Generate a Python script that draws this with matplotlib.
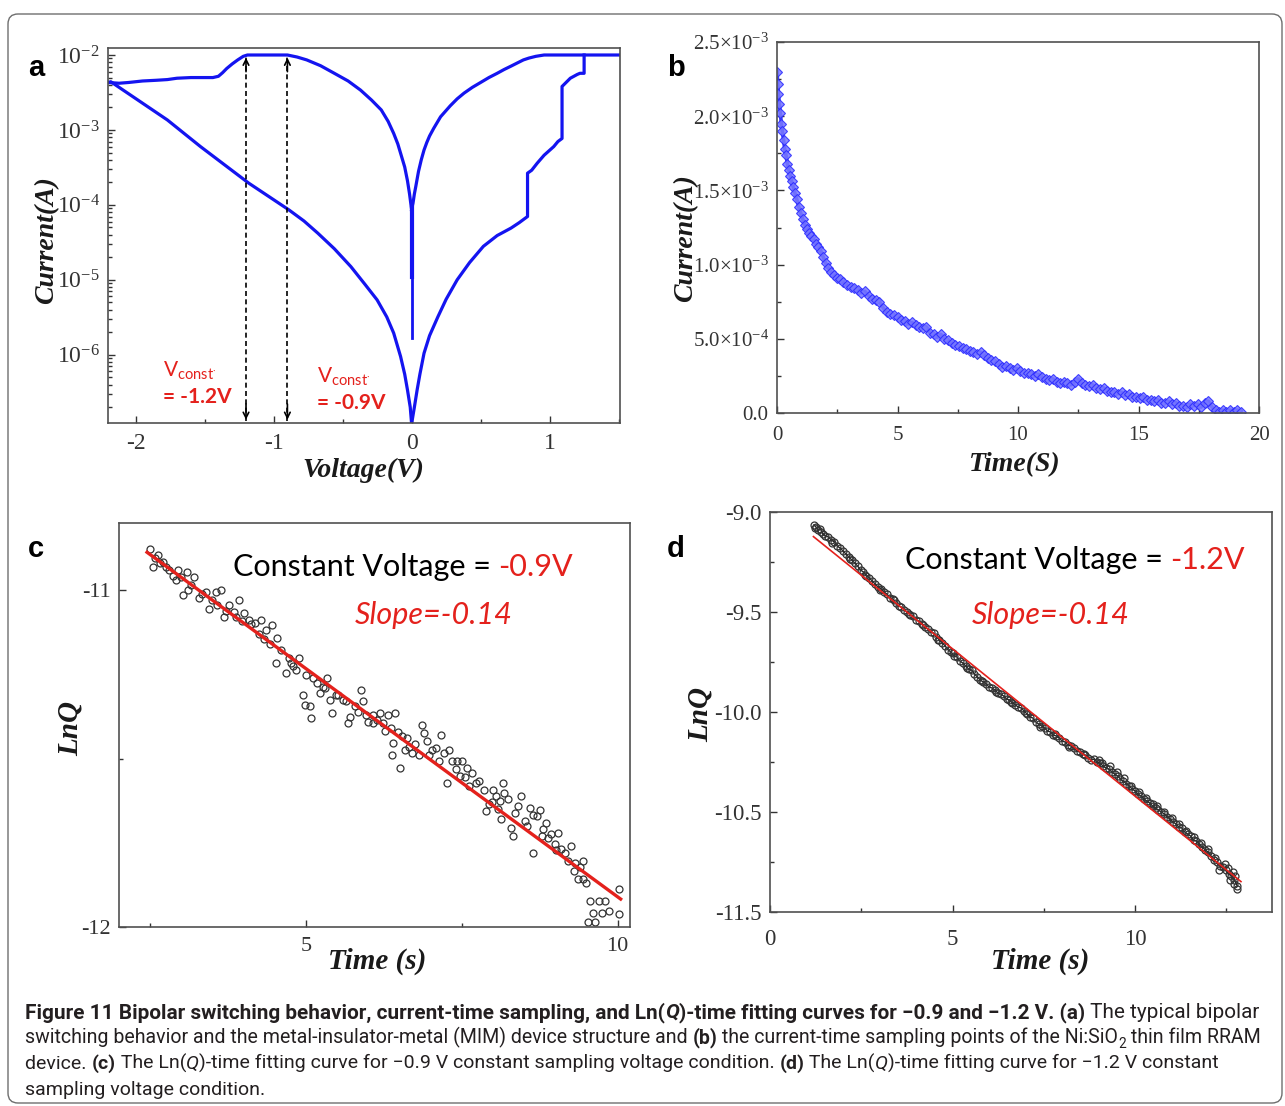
import numpy as np
import matplotlib
matplotlib.use('Agg')
import matplotlib.pyplot as plt
from matplotlib import font_manager
from matplotlib.patches import FancyBboxPatch
from matplotlib.transforms import IdentityTransform
from matplotlib.ticker import LogLocator, NullFormatter, MultipleLocator
from matplotlib.font_manager import FontProperties

plt.rcParams['font.family'] = 'Liberation Serif'
plt.rcParams['axes.unicode_minus'] = False
plt.rcParams['mathtext.fontset'] = 'custom'
plt.rcParams['mathtext.rm'] = 'Liberation Serif'
plt.rcParams['mathtext.it'] = 'Liberation Serif:italic'
plt.rcParams['mathtext.bf'] = 'Liberation Serif:bold'

SERIF = 'Liberation Serif'
SANS = 'Lato'
BLUE = '#1414f0'
RED = '#e4211c'

# ---------------- data: panel a (I-V sweep) ----------------
a_upper_left_v = [-2.20, -2.12, -2.05, -1.95, -1.85, -1.77, -1.70, -1.60, -1.50, -1.44, -1.40, -1.37, -1.34,
                  -1.30, -1.26, -1.22, -1.19, -0.90, -0.83, -0.76, -0.66, -0.56, -0.46, -0.37, -0.29,
                  -0.22, -0.17, -0.13, -0.10, -0.08, -0.05, -0.03, -0.015, 0.0]
a_upper_left_i = [4.3e-3, 4.2e-3, 4.3e-3, 4.5e-3, 4.6e-3, 4.7e-3, 4.9e-3, 5.0e-3, 5.0e-3, 5.0e-3, 5.2e-3, 5.8e-3, 6.6e-3,
                  7.6e-3, 8.6e-3, 9.6e-3, 1.0e-2, 1.0e-2, 9.4e-3, 8.6e-3, 7.2e-3, 5.7e-3, 4.5e-3, 3.4e-3, 2.5e-3,
                  1.85e-3, 1.3e-3, 9.0e-4, 6.5e-4, 4.9e-4, 3.2e-4, 2.1e-4, 1.4e-4, 8.6e-5]
a_upper_right_v = [0.0, 0.01, 0.02, 0.03, 0.05, 0.07, 0.09, 0.11, 0.13, 0.16, 0.21, 0.28, 0.33, 0.38, 0.44,
                   0.50, 0.56, 0.62, 0.67, 0.72, 0.77, 0.81, 0.85, 0.90, 0.96, 1.51]
a_upper_right_i = [8.6e-5, 1.05e-4, 1.4e-4, 1.75e-4, 2.8e-4, 4.0e-4, 5.4e-4, 6.8e-4, 8.3e-4, 1.05e-3, 1.5e-3,
                   2.1e-3, 2.6e-3, 3.1e-3, 3.7e-3, 4.3e-3, 5.0e-3, 5.7e-3, 6.4e-3, 7.1e-3, 7.9e-3, 8.6e-3,
                   9.1e-3, 9.6e-3, 1.0e-2, 1.0e-2]
a_spike_v = [0.0, 0.0]
a_spike_i = [9.0e-5, 1.7e-6]
a_lower_left_v = [-2.20, -2.18, -1.77, -1.53, -1.18, -0.89, -0.78, -0.68, -0.56, -0.44, -0.34, -0.25, -0.18,
                  -0.13, -0.08, -0.05, -0.03, -0.01, 0.0]
a_lower_left_i = [4.3e-3, 4.4e-3, 1.36e-3, 6.0e-4, 1.95e-4, 8.6e-5, 6.1e-5, 4.2e-5, 2.6e-5, 1.5e-5, 8.8e-6,
                  5.4e-6, 3.2e-6, 1.95e-6, 9.5e-7, 5.5e-7, 3.4e-7, 2.0e-7, 1.2e-7]
a_lower_right_v = [0.0, 0.02, 0.04, 0.06, 0.09, 0.13, 0.19, 0.25, 0.33, 0.42, 0.52, 0.62, 0.72, 0.78, 0.84,
                   0.84, 0.87, 0.91, 0.96, 1.03, 1.06, 1.09, 1.09, 1.15, 1.20, 1.22, 1.25, 1.25]
a_lower_right_i = [1.2e-7, 2.0e-7, 3.4e-7, 5.5e-7, 1.05e-6, 1.8e-6, 3.2e-6, 5.5e-6, 1.0e-5, 1.7e-5, 2.8e-5,
                   3.9e-5, 4.9e-5, 5.8e-5, 7.0e-5, 2.65e-4, 2.9e-4, 3.6e-4, 4.6e-4, 6.0e-4, 7.0e-4, 7.7e-4,
                   3.8e-3, 4.9e-3, 5.5e-3, 5.7e-3, 5.7e-3, 1.0e-2]
a_vconst = [-1.2, -0.9]

# ---------------- data: panel b (current vs time) ----------------
b_time = [0.00, 0.03, 0.06, 0.10, 0.14, 0.18, 0.22, 0.27, 0.32, 0.37, 0.43, 0.49, 0.55, 0.61, 0.68, 0.75,
          0.82, 0.90, 0.98, 1.06, 1.15, 1.24, 1.33, 1.42, 1.52, 1.62, 1.72, 1.82, 1.92, 2.02, 2.12, 2.24,
          2.36, 2.48, 2.60, 2.75, 2.90, 3.05, 3.20, 3.35, 3.50, 3.65, 3.80, 3.95, 4.10, 4.25, 4.40, 4.55,
          4.70, 4.85, 5.00, 5.15, 5.30, 5.45, 5.60, 5.75, 5.90, 6.05, 6.20, 6.35, 6.50, 6.65, 6.80, 6.95,
          7.10, 7.25, 7.40, 7.55, 7.70, 7.85, 8.00, 8.15, 8.30, 8.45, 8.60, 8.75, 8.90, 9.05, 9.20, 9.35,
          9.50, 9.65, 9.80, 9.95, 10.10, 10.25, 10.40, 10.55, 10.70, 10.85, 11.00, 11.15, 11.30, 11.45,
          11.60, 11.75, 11.90, 12.05, 12.20, 12.35, 12.50, 12.65, 12.80, 12.95, 13.10, 13.25, 13.40, 13.55,
          13.70, 13.85, 14.00, 14.15, 14.30, 14.45, 14.60, 14.75, 14.90, 15.05, 15.20, 15.35, 15.50, 15.65,
          15.80, 15.95, 16.10, 16.25, 16.40, 16.55, 16.70, 16.85, 17.00, 17.15, 17.30, 17.45, 17.60, 17.75,
          17.90, 18.05, 18.20, 18.35, 18.50, 18.65, 18.80, 18.95, 19.10, 19.25]
b_current_mA = [2.30, 2.22, 2.15, 2.08, 2.02, 1.95, 1.90, 1.84, 1.78, 1.74, 1.68, 1.64, 1.60, 1.56, 1.52, 1.48,
                1.44, 1.39, 1.35, 1.31, 1.27, 1.24, 1.21, 1.19, 1.17, 1.14, 1.12, 1.09, 1.05, 1.01, 0.98, 0.95,
                0.93, 0.91, 0.90, 0.88, 0.86, 0.85, 0.84, 0.83, 0.81, 0.82, 0.79, 0.77, 0.76, 0.75, 0.71, 0.68,
                0.67, 0.66, 0.65, 0.63, 0.62, 0.60, 0.61, 0.59, 0.58, 0.57, 0.58, 0.54, 0.53, 0.51, 0.53, 0.50,
                0.49, 0.47, 0.46, 0.45, 0.44, 0.43, 0.42, 0.41, 0.40, 0.41, 0.39, 0.37, 0.36, 0.35, 0.33, 0.31,
                0.32, 0.30, 0.29, 0.30, 0.28, 0.27, 0.27, 0.26, 0.25, 0.26, 0.24, 0.23, 0.22, 0.23, 0.21, 0.20,
                0.21, 0.20, 0.19, 0.21, 0.23, 0.20, 0.19, 0.18, 0.19, 0.17, 0.16, 0.17, 0.15, 0.14, 0.14, 0.13,
                0.14, 0.12, 0.13, 0.11, 0.11, 0.10, 0.11, 0.09, 0.09, 0.08, 0.09, 0.07, 0.07, 0.08, 0.06, 0.07,
                0.05, 0.05, 0.04, 0.06, 0.05, 0.06, 0.04, 0.07, 0.08, 0.04, 0.02, 0.01, 0.02, 0.01, 0.02, 0.01,
                0.02, 0.01]

# ---------------- data: panel c (LnQ vs time, -0.9 V) ----------------
c_points = [(2.50, -10.877), (2.55, -10.931), (2.58, -10.905), (2.63, -10.896), (2.66, -10.920), (2.71, -10.916),
            (2.76, -10.931), (2.80, -10.940), (2.87, -10.956), (2.92, -10.970), (2.95, -10.941), (3.00, -10.960),
            (3.03, -11.015), (3.09, -10.946), (3.11, -11.000), (3.15, -10.985), (3.20, -10.961), (3.28, -11.024),
            (3.33, -11.010), (3.39, -11.005), (3.44, -11.054), (3.50, -11.030), (3.55, -11.005), (3.58, -11.045),
            (3.63, -11.000), (3.68, -11.079), (3.72, -11.060), (3.76, -11.044), (3.84, -11.064), (3.88, -11.080),
            (3.92, -11.030), (3.97, -11.090), (4.00, -11.068), (4.09, -11.089), (4.12, -11.100), (4.19, -11.098),
            (4.24, -11.130), (4.28, -11.089), (4.32, -11.145), (4.36, -11.118), (4.42, -11.160), (4.46, -11.104),
            (4.52, -11.217), (4.54, -11.143), (4.60, -11.178), (4.68, -11.247), (4.72, -11.200), (4.76, -11.217),
            (4.80, -11.225), (4.84, -11.237), (4.89, -11.202), (4.95, -11.311), (4.98, -11.340), (5.00, -11.250),
            (5.06, -11.345), (5.08, -11.379), (5.12, -11.260), (5.17, -11.276), (5.22, -11.306), (5.27, -11.286),
            (5.30, -11.290), (5.33, -11.261), (5.38, -11.325), (5.41, -11.363), (5.49, -11.311), (5.52, -11.310),
            (5.60, -11.325), (5.64, -11.330), (5.68, -11.394), (5.70, -11.375), (5.78, -11.345), (5.84, -11.360),
            (5.89, -11.296), (5.92, -11.330), (5.96, -11.370), (6.00, -11.390), (6.08, -11.394), (6.08, -11.370),
            (6.14, -11.385), (6.19, -11.365), (6.24, -11.395), (6.27, -11.419), (6.32, -11.370), (6.36, -11.410),
            (6.38, -11.488), (6.40, -11.454), (6.43, -11.365), (6.48, -11.420), (6.51, -11.527), (6.54, -11.434),
            (6.59, -11.473), (6.62, -11.440), (6.65, -11.464), (6.70, -11.483), (6.75, -11.455), (6.81, -11.488),
            (6.86, -11.399), (6.89, -11.424), (6.94, -11.449), (6.98, -11.490), (7.03, -11.473), (7.08, -11.468),
            (7.13, -11.508), (7.16, -11.429), (7.21, -11.483), (7.27, -11.572), (7.29, -11.473), (7.35, -11.508),
            (7.40, -11.530), (7.43, -11.508), (7.48, -11.552), (7.51, -11.508), (7.56, -11.555), (7.59, -11.527),
            (7.62, -11.580), (7.67, -11.542), (7.73, -11.572), (7.78, -11.567), (7.86, -11.592), (7.89, -11.656),
            (7.94, -11.636), (7.98, -11.630), (8.00, -11.592), (8.05, -11.611), (8.08, -11.650), (8.11, -11.626),
            (8.13, -11.680), (8.16, -11.572), (8.18, -11.601), (8.24, -11.621), (8.29, -11.705), (8.32, -11.730),
            (8.35, -11.661), (8.40, -11.641), (8.45, -11.611), (8.51, -11.686), (8.55, -11.700), (8.59, -11.646),
            (8.64, -11.666), (8.64, -11.779), (8.70, -11.670), (8.75, -11.651), (8.78, -11.730), (8.81, -11.710),
            (8.86, -11.690), (8.89, -11.735), (8.94, -11.725), (8.99, -11.754), (9.02, -11.770), (9.05, -11.720),
            (9.10, -11.769), (9.16, -11.779), (9.21, -11.804), (9.26, -11.760), (9.30, -11.835), (9.32, -11.809),
            (9.37, -11.858), (9.40, -11.823), (9.45, -11.804), (9.45, -11.858), (9.50, -11.870), (9.53, -11.986),
            (9.56, -11.922), (9.61, -11.957), (9.64, -11.986), (9.70, -11.922), (9.75, -11.957), (9.80, -11.922),
            (9.86, -11.952), (10.02, -11.888), (10.02, -11.962)]
c_time = [p[0] for p in c_points]
c_lnq = [p[1] for p in c_points]
c_fit_time = [2.45, 10.05]
c_fit_lnq = [-10.887, -11.917]

# ---------------- data: panel d (LnQ vs time, -1.2 V) ----------------
d_points = [(1.20, -9.065), (1.26, -9.075), (1.32, -9.09), (1.38, -9.085), (1.45, -9.11), (1.52, -9.12),
            (1.60, -9.125), (1.68, -9.14), (1.76, -9.15), (1.84, -9.17), (1.92, -9.18), (2.00, -9.195),
            (2.08, -9.21), (2.16, -9.225), (2.24, -9.24), (2.32, -9.255), (2.40, -9.27), (2.48, -9.29),
            (2.56, -9.30), (2.64, -9.32), (2.72, -9.33), (2.80, -9.345), (2.88, -9.36), (2.96, -9.375),
            (3.04, -9.385), (3.12, -9.40), (3.20, -9.41), (3.28, -9.43), (3.36, -9.435), (3.44, -9.455),
            (3.52, -9.47), (3.60, -9.475), (3.68, -9.49), (3.76, -9.50), (3.84, -9.515), (3.92, -9.52),
            (4.00, -9.54), (4.08, -9.545), (4.16, -9.56), (4.24, -9.575), (4.32, -9.585), (4.40, -9.60),
            (4.48, -9.605), (4.56, -9.625), (4.64, -9.64), (4.72, -9.655), (4.80, -9.67), (4.88, -9.69),
            (4.96, -9.70), (5.04, -9.72), (5.12, -9.725), (5.20, -9.745), (5.28, -9.755), (5.36, -9.77),
            (5.44, -9.785), (5.52, -9.79), (5.60, -9.81), (5.68, -9.825), (5.76, -9.84), (5.84, -9.85),
            (5.92, -9.86), (6.00, -9.875), (6.08, -9.88), (6.16, -9.89), (6.24, -9.905), (6.32, -9.91),
            (6.40, -9.92), (6.48, -9.935), (6.56, -9.94), (6.64, -9.955), (6.72, -9.965), (6.80, -9.975),
            (6.88, -9.98), (6.96, -9.995), (7.04, -10.01), (7.12, -10.025), (7.20, -10.03), (7.28, -10.05),
            (7.36, -10.06), (7.44, -10.07), (7.52, -10.08), (7.60, -10.095), (7.68, -10.10), (7.76, -10.115),
            (7.84, -10.12), (7.92, -10.13), (8.00, -10.145), (8.08, -10.15), (8.16, -10.165), (8.24, -10.17),
            (8.32, -10.18), (8.40, -10.195), (8.48, -10.20), (8.56, -10.21), (8.64, -10.215), (8.72, -10.23),
            (8.80, -10.24), (8.88, -10.235), (8.96, -10.25), (9.04, -10.255), (9.12, -10.27), (9.20, -10.28),
            (9.28, -10.285), (9.36, -10.30), (9.44, -10.31), (9.52, -10.32), (9.60, -10.335), (9.68, -10.345),
            (9.76, -10.36), (9.84, -10.37), (9.92, -10.385), (10.00, -10.395), (10.08, -10.41), (10.16, -10.42),
            (10.24, -10.435), (10.32, -10.445), (10.40, -10.455), (10.48, -10.47), (10.56, -10.48), (10.64, -10.49),
            (10.72, -10.50), (10.80, -10.51), (10.88, -10.525), (10.96, -10.535), (11.04, -10.55), (11.12, -10.56),
            (11.20, -10.575), (11.28, -10.58), (11.36, -10.60), (11.44, -10.61), (11.52, -10.62), (11.60, -10.64),
            (11.68, -10.645), (11.76, -10.66), (11.84, -10.675), (11.92, -10.69), (12.00, -10.70), (12.08, -10.72),
            (12.16, -10.74), (12.24, -10.75), (12.32, -10.77), (12.40, -10.775), (12.48, -10.79), (12.56, -10.81),
            (12.64, -10.82), (12.72, -10.84), (12.80, -10.87)]
d_extra = [(1.24, -9.08), (1.40, -9.10), (1.70, -9.155), (2.20, -9.235), (2.60, -9.315), (3.00, -9.39),
           (3.40, -9.44), (3.80, -9.51), (4.20, -9.565), (4.60, -9.64), (5.00, -9.705), (5.40, -9.78),
           (5.80, -9.845), (6.20, -9.90), (6.60, -9.95), (7.00, -10.005), (7.40, -10.075), (7.80, -10.11),
           (8.20, -10.175), (8.60, -10.21), (9.00, -10.24), (9.10, -10.255), (9.30, -10.27), (9.50, -10.30),
           (9.70, -10.33), (9.90, -10.37), (10.10, -10.40), (10.30, -10.43), (10.50, -10.46), (10.60, -10.47),
           (10.80, -10.50), (11.00, -10.53), (11.20, -10.56), (11.40, -10.595), (11.60, -10.625), (11.80, -10.655),
           (12.00, -10.685), (12.20, -10.73), (12.30, -10.79), (12.45, -10.76), (12.55, -10.78), (12.60, -10.84),
           (12.68, -10.80), (12.75, -10.82), (12.78, -10.885), (12.70, -10.86)]
d_time = [p[0] for p in d_points]
d_lnq = [p[1] for p in d_points]
d_extra_time = [p[0] for p in d_extra]
d_extra_lnq = [p[1] for p in d_extra]
d_fit_time = [1.19, 12.9]
d_fit_lnq = [-9.123, -10.848]

# ---------------- figure ----------------
W, H = 1285, 1106
fig = plt.figure(figsize=(W / 100, H / 100), dpi=100)
renderer = fig.canvas.get_renderer()


def px(x, y):
    return x / W, 1 - y / H


def add_axes(left, top, right, bottom):
    return fig.add_axes([left / W, 1 - bottom / H, (right - left) / W, (bottom - top) / H])


def style(ax, size, xpad):
    for s in ax.spines.values():
        s.set_color('#505050')
        s.set_linewidth(1.2)
    ax.tick_params(which='both', direction='in', top=False, right=False, colors='#333333',
                   labelsize=size, width=1.0, pad=6)
    ax.tick_params(axis='x', which='both', pad=xpad)
    ax.tick_params(which='major', length=5)
    ax.tick_params(which='minor', length=3)


LABEL = dict(family=SERIF, weight='bold', style='italic', fontsize=20, color='#1a1a1a')

# panel a
ax = add_axes(108, 48, 620, 423)
for v_, i_ in [(a_upper_left_v, a_upper_left_i), (a_upper_right_v, a_upper_right_i),
               (a_lower_left_v, a_lower_left_i), (a_lower_right_v, a_lower_right_i)]:
    ax.plot(v_, i_, color=BLUE, lw=2.3, solid_joinstyle='round')
ax.plot(a_spike_v, a_spike_i, color=BLUE, lw=2.0)
ax.plot(a_spike_v, [9.0e-5, 1.1e-5], color=BLUE, lw=3.0)
for v in a_vconst:
    ax.plot([v, v], [1.3e-7, 9.5e-3], color='k', lw=1.2, ls=(0, (3, 2)))
    ax.annotate('', xy=(v, 1.0e-2), xytext=(v, 5.5e-3),
                arrowprops=dict(arrowstyle='->', color='k', lw=1.2))
    ax.annotate('', xy=(v, 1.25e-7), xytext=(v, 2.4e-7),
                arrowprops=dict(arrowstyle='->', color='k', lw=1.2))
ax.set_yscale('log')
ax.set_xlim(-2.2, 1.51)
ax.set_ylim(1.23e-7, 1.24e-2)
ax.set_xticks([-2, -1, 0, 1], ['-2', '-1', '0', '1'])
ax.xaxis.set_minor_locator(MultipleLocator(0.5))
ax.set_yticks([1e-6, 1e-5, 1e-4, 1e-3, 1e-2],
              [r'10$^{-6}$', r'10$^{-5}$', r'10$^{-4}$', r'10$^{-3}$', r'10$^{-2}$'])
ax.yaxis.set_minor_locator(LogLocator(base=10, subs=np.arange(2, 10)))
ax.yaxis.set_minor_formatter(NullFormatter())
style(ax, 17, 7.5)
fig.text(*px(363, 470), 'Voltage(V)', ha='center', va='center', **LABEL)
fig.text(*px(47, 240), 'Current(A)', ha='center', va='center', rotation=90, **LABEL)
for x0, y0, val in [(163, 370, '= -1.2V'), (317, 376, '= -0.9V')]:
    fig.text(*px(x0, y0), r'V$_{\mathregular{const}^{\bullet}}$', ha='left', va='center',
             family=SANS, fontsize=15, color=RED)
    fig.text(*px(x0, y0 + 27), val, ha='left', va='center', family=SANS, fontsize=15,
             weight='bold', color=RED)

# panel b
ax = add_axes(777, 42, 1259, 413)
current = np.array(b_current_mA) * 1e-3
ax.plot(b_time, current, color='#1c1cf5', lw=2.6, marker='D', ms=5, mfc='#7878ff',
        mec='#2a2aff', mew=0.8, alpha=0.85)
ax.set_xlim(0, 20)
ax.set_ylim(0, 2.5e-3)
ax.set_xticks([0, 5, 10, 15, 20])
ax.xaxis.set_minor_locator(MultipleLocator(2.5))
ax.set_yticks([0, 5e-4, 1e-3, 1.5e-3, 2e-3, 2.5e-3],
              ['0.0', r'5.0×10$^{-4}$', r'1.0×10$^{-3}$', r'1.5×10$^{-3}$', r'2.0×10$^{-3}$',
               r'2.5×10$^{-3}$'])
ax.yaxis.set_minor_locator(MultipleLocator(2.5e-4))
style(ax, 15, 9.5)
fig.text(*px(1015, 465), 'Time(S)', ha='center', va='center', **LABEL)
fig.text(*px(686, 238), 'Current(A)', ha='center', va='center', rotation=90, **LABEL)

# panel c
ax = add_axes(119, 523, 630, 927)
ax.plot(c_time, c_lnq, ls='none', marker='o', ms=5, mfc='none', mec='#333333', mew=0.9)
ax.plot(c_fit_time, c_fit_lnq, color=RED, lw=2.4)
ax.set_xlim(2.0, 10.2)
ax.set_ylim(-12, -10.8)
ax.set_xticks([5, 10])
ax.set_xticks([2.5, 7.5], minor=True)
ax.set_yticks([-12, -11], ['-12', '-11'])
ax.set_yticks([-11.5], minor=True)
style(ax, 16, 7.5)
fig.text(*px(377, 961), 'Time (s)', ha='center', va='center', **dict(LABEL, fontsize=21))
fig.text(*px(70, 728), 'LnQ', ha='center', va='center', rotation=90, **dict(LABEL, fontsize=21))

# panel d
ax = add_axes(770, 512, 1272, 912)
ax.plot(d_time, d_lnq, color='#222222', lw=1.0, marker='o', ms=5, mfc='none', mec='#333333', mew=0.9)
ax.plot(d_extra_time, d_extra_lnq, ls='none', marker='o', ms=5, mfc='none', mec='#333333', mew=0.9)
ax.plot(d_fit_time, d_fit_lnq, color=RED, lw=1.2)
ax.set_xlim(0, 13.75)
ax.set_ylim(-11, -9)
ax.set_xticks([0, 5, 10])
ax.set_xticks([2.5, 7.5, 12.5], minor=True)
ax.set_yticks([-11, -10.5, -10, -9.5, -9], ['-11.5', '-10.5', '-10.0', '-9.5', '-9.0'])
ax.yaxis.set_minor_locator(MultipleLocator(0.25))
style(ax, 16.5, 12)
fig.text(*px(1040, 961), 'Time (s)', ha='center', va='center', **dict(LABEL, fontsize=21))
fig.text(*px(700, 715), 'LnQ', ha='center', va='center', rotation=90, **dict(LABEL, fontsize=21))

# panel letters
for letter, (x0, y0) in zip('abcd', [(36, 68), (676, 68), (36, 549), (676, 549)]):
    fig.text(*px(x0, y0), letter, ha='center', va='center', family='Liberation Sans',
             weight='bold', fontsize=21)


# chained text pieces
def font(family, kind, size):
    return FontProperties(family=family, weight='bold' if 'b' in kind else 'normal',
                          style='italic' if 'i' in kind else 'normal',
                          size=size * 0.7 if kind == 's' else size)


def width(s, fp):
    w1 = renderer.get_text_width_height_descent(s + '|', fp, ismath=False)[0]
    w2 = renderer.get_text_width_height_descent('|', fp, ismath=False)[0]
    return w1 - w2


def line_width(pieces, family, size):
    return sum(width(s, font(family, kind, size)) for s, kind, _ in pieces)


def chain(x, y, pieces, family, size, va='baseline'):
    for s, kind, color in pieces:
        fp = font(family, kind, size)
        dy = 5 if kind == 's' else 0
        fig.text(*px(x, y + dy), s, fontproperties=fp, color=color, ha='left', va=va)
        x += width(s, fp)
    return x


chain(233, 576, [('Constant Voltage = ', 'n', 'k'), ('-0.9V', 'n', RED)], SANS, 22)
chain(355, 615, [('Slope=-0.14', 'i', RED)], SANS, 22, va='center')
chain(905, 569, [('Constant Voltage = ', 'n', 'k'), ('-1.2V', 'n', RED)], SANS, 22)
chain(972, 615, [('Slope=-0.14', 'i', RED)], SANS, 22, va='center')

# caption
CAP = '#231f20'
cap_lines = [
    [('Figure 11 Bipolar switching behavior, current-time sampling, and Ln(', 'b', CAP), ('Q', 'bi', CAP),
     (')-time fitting curves for \u22120.9 and \u22121.2 V. (a)', 'b', CAP), (' The typical bipolar', 'n', CAP)],
    [('switching behavior and the metal-insulator-metal (MIM) device structure and ', 'n', CAP), ('(b)', 'b', CAP),
     (' the current-time sampling points of the Ni:SiO', 'n', CAP), ('2', 's', CAP), (' thin film RRAM', 'n', CAP)],
    [('device. ', 'n', CAP), ('(c)', 'b', CAP), (' The Ln(', 'n', CAP), ('Q', 'i', CAP),
     (')-time fitting curve for \u22120.9 V constant sampling voltage condition. ', 'n', CAP), ('(d)', 'b', CAP),
     (' The Ln(', 'n', CAP), ('Q', 'i', CAP), (')-time fitting curve for \u22121.2 V constant', 'n', CAP)],
    [('sampling voltage condition.', 'n', CAP)],
]
cap_targets = [1237, 1237, 1187]
try:
    font_manager.findfont('Liberation Sans Narrow', fallback_to_default=False)
    CAP_FONT = 'Liberation Sans Narrow'
except ValueError:
    CAP_FONT = 'Roboto'
cap_sizes = [13 * t / line_width(line, CAP_FONT, 13) for line, t in zip(cap_lines, cap_targets)]
cap_sizes.append(cap_sizes[2])
for line, yb, size in zip(cap_lines, [1018, 1043, 1069, 1095], cap_sizes):
    chain(25, yb, line, CAP_FONT, size)

# rounded frame
frame = FancyBboxPatch((8, H - 1103), 1274, 1089, boxstyle='round,pad=0,rounding_size=10',
                       transform=IdentityTransform(), fill=False, ec='#6e6e6e', lw=1.0)
fig.add_artist(frame)

fig.savefig('out.png', dpi=100)
